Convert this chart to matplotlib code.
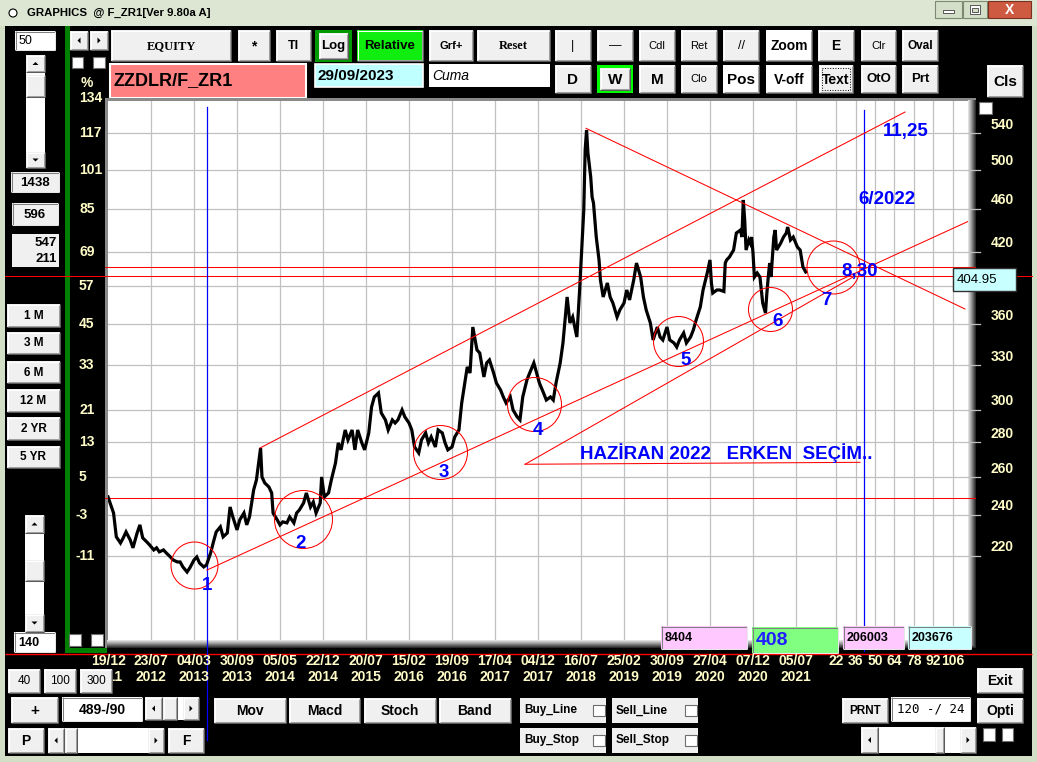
import matplotlib
matplotlib.use("Agg")
import matplotlib.pyplot as plt
from matplotlib.patches import Rectangle, Polygon, Circle
from matplotlib.transforms import blended_transform_factory, offset_copy

plt.rcParams['font.family'] = ['Liberation Sans', 'DejaVu Sans']

# ---- data: ZZDLR/F_ZR1 weekly, week 0 = 19/12/2011 ----
weeks = [0, 4, 6, 9, 11, 13, 16, 18, 21, 23,
         25, 28, 30, 33, 35, 37, 40, 42, 45, 47,
         50, 52, 54, 57, 59, 62, 64, 66, 69, 71,
         74, 76, 78, 81, 83, 86, 88, 90, 93, 95,
         98, 100, 102, 105, 107, 110, 111, 113, 116, 118,
         119, 122, 124, 126, 129, 131, 134, 136, 138, 141,
         143, 146, 148, 150, 153, 154, 156, 159, 161, 164,
         166, 168, 171, 173, 176, 178, 180, 183, 185, 188,
         190, 192, 195, 197, 200, 202, 205, 207, 209, 212,
         214, 217, 219, 221, 224, 226, 229, 231, 233, 236,
         238, 241, 243, 245, 248, 250, 253,
         255, 259, 261, 263, 266, 268, 271, 273, 275, 278,
         280, 283, 285, 287, 290, 292, 295, 297, 299, 302,
         304, 307, 309, 311, 314, 316, 319, 321, 323, 326,
         328, 331, 333, 335, 338, 340, 343, 344, 345, 346,
         348, 349, 350, 351, 352, 354, 355, 357, 360, 362,
         364, 367, 369, 372, 374, 376, 379, 381, 384, 386,
         388, 391, 393, 396, 398, 400, 403, 405, 408, 410,
         412, 415, 417, 420, 422, 424, 427, 429, 432, 434,
         435, 436, 439, 441, 444, 445, 446, 448, 451, 453,
         456, 457, 458, 459, 460, 462, 463, 464, 465, 466,
         468, 470, 471, 472, 474, 475, 476, 477, 478, 480,
         481, 482, 485, 487, 489, 490, 492, 494, 497, 499,
         501, 503]
close = [249.4, 241.0, 229.1, 226.1, 228.6, 231.5, 227.6, 223.8, 231.0, 235.0,
         228.6, 226.6, 225.2, 222.8, 223.8, 221.9, 222.8, 221.4, 219.5, 218.1,
         217.2, 217.2, 214.9, 212.6, 214.5, 218.1, 219.5, 216.7, 214.9, 215.8,
         221.4, 226.6, 231.5, 234.0, 229.1, 231.0, 244.1, 239.0, 232.5, 237.5,
         241.0, 235.0, 239.0, 253.1, 258.5, 276.7, 260.2, 256.9, 254.7, 251.5,
         241.0, 237.5, 235.0, 236.5, 236.0, 239.0, 236.0, 241.0, 242.6, 246.2,
         251.5, 244.1, 246.7, 241.0, 246.2, 260.2, 249.4, 251.5, 258.5, 268.0,
         279.7, 275.6, 287.5, 281.5, 287.5, 275.6, 287.5, 279.7, 275.6, 285.7,
         301.9, 308.4, 311.0, 298.1, 293.7, 287.5, 293.7, 291.8, 293.7, 300.0,
         295.6, 291.8, 287.5, 277.3, 273.8, 281.5, 285.7, 279.7, 283.3, 277.3,
         287.5, 285.7, 279.7, 275.6, 277.3, 283.3, 287.5,
         304.5, 328.7, 324.5, 357.8, 340.8, 338.6, 321.8, 331.5, 333.6, 324.5,
         317.7, 313.0, 308.4, 304.5, 308.4, 300.0, 295.6, 293.7, 308.4, 319.7,
         324.5, 331.5, 324.5, 317.7, 311.0, 306.4, 308.4, 306.4, 317.7, 331.5,
         345.9, 381.4, 360.9, 365.5, 350.3, 387.1, 458.8, 521.2, 543.8, 517.9,
         492.1, 471.7, 465.7, 449.2, 433.2, 412.6, 395.4, 381.4, 392.9, 381.4,
         376.5, 365.5, 371.0, 376.5, 387.1, 379.0, 395.4, 409.9, 397.9, 381.4,
         371.0, 360.9, 348.1, 357.8, 350.3, 348.1, 357.8, 348.1, 345.9, 342.9,
         348.1, 353.3, 345.9, 350.3, 355.6, 363.2, 373.4, 387.1, 401.3, 412.6,
         392.9, 384.6, 387.1, 387.1, 385.9, 409.9, 412.6, 415.2, 421.4, 436.9,
         439.7, 433.2, 468.7, 449.2, 421.4, 430.5, 427.7, 433.2, 418.7, 397.9,
         401.3, 397.9, 387.1, 376.5, 368.6, 384.6, 397.9, 409.9, 397.9, 433.2,
         439.7, 421.4, 427.7, 433.2, 436.9, 442.5, 430.5, 433.2, 424.1, 421.4,
         406.5, 402.2]

grid_dates = ['19/12', '23/07', '04/03', '30/09', '05/05', '22/12', '20/07', '15/02', '19/09',
              '17/04', '04/12', '16/07', '25/02', '30/09', '27/04', '07/12', '05/07']
grid_years = ['2011', '2012', '2013', '2013', '2014', '2014', '2015', '2016', '2016',
              '2017', '2017', '2018', '2019', '2019', '2020', '2020', '2021']
weeks_per_grid = 31
future_bars = [22, 36, 50, 64, 78, 92, 106]

price_levels = [582, 540, 500, 460, 420, 390, 360, 330, 300, 280, 260, 240, 220]
pct_labels = ['134', '117', '101', '85', '69', '57', '45', '33', '21', '13', '5', '-3', '-11']
hidden_price_label = 390   # covered by the cursor box in the app
base_price = 248.8
cursor_price = 398.8
last_price = 406.9
cursor_text = '404.95'

# drawn trend lines: (week0, price0, week1, price1)
upper_channel = (109.6, 276.7, 574.6, 565.0)
lower_channel = (71.4, 213.5, 620.7, 448.2)
inner_channel = (300.7, 267.3, 537.1, 397.9)
election_line = (300.7, 267.3, 542.1, 268.4)
peak_line = (344.6, 545.8, 617.8, 371.8)

ring_weeks = [62.0, 140.9, 239.0, 307.1, 411.1, 476.9, 522.7]
ring_prices = [215.8, 238.0, 274.4, 303.5, 347.5, 371.8, 406.5]
ring_radius = [23.5, 29, 27, 27, 25, 22, 26.5]

wave_labels = ['1', '2', '3', '4', '5', '6', '7']
wave_weeks = [71.4, 139.1, 242.2, 310.0, 416.7, 483.0, 518.3]
wave_prices = [207.3, 226.6, 263.5, 288.7, 335.0, 363.2, 380.2]

vlines_weeks = [71.2, 545.2]

# ---- figure / helpers (pixel coordinates for the window chrome) ----
W, H = 1037, 762
fig = plt.figure(figsize=(W / 100, H / 100), dpi=100)
fig.patch.set_facecolor('#d2dec5')

bg = fig.add_axes([0, 0, 1, 1], zorder=0)
fg = fig.add_axes([0, 0, 1, 1], zorder=2)
for a in (bg, fg):
    a.set_xlim(0, W)
    a.set_ylim(H, 0)
    a.axis('off')

CREAM = '#fffcc8'


def box(a, x0, y0, x1, y1, fc, ec='none', lw=0.8, z=1, ls='-'):
    a.add_patch(Rectangle((x0, y0), x1 - x0, y1 - y0, facecolor=fc, edgecolor=ec,
                          lw=lw, zorder=z, ls=ls))


def seg(a, xs, ys, c, lw=0.75, z=2):
    a.plot(xs, ys, color=c, lw=lw, zorder=z, solid_capstyle='butt')


def button(a, x0, y0, x1, y1, label='', fc='#f0f0f0', fs=8.5, fw='bold',
           tc='black', family=None, z=1):
    box(a, x0, y0, x1, y1, fc, z=z)
    seg(a, [x0, x1], [y0 + .5, y0 + .5], 'white', z=z + .1)
    seg(a, [x0 + .5, x0 + .5], [y0, y1], 'white', z=z + .1)
    seg(a, [x0, x1], [y1 - .5, y1 - .5], '#5a5a5a', z=z + .1)
    seg(a, [x1 - .5, x1 - .5], [y0, y1], '#5a5a5a', z=z + .1)
    seg(a, [x0 + 1, x1 - 1], [y1 - 1.5, y1 - 1.5], '#a0a0a0', z=z + .1)
    seg(a, [x1 - 1.5, x1 - 1.5], [y0 + 1, y1 - 1], '#a0a0a0', z=z + .1)
    if label:
        kw = {} if family is None else {'family': family}
        a.text((x0 + x1) / 2, (y0 + y1) / 2 + .5, label, ha='center', va='center',
               fontsize=fs, fontweight=fw, color=tc, zorder=z + .2, **kw)


def field(a, x0, y0, x1, y1, label='', fc='white', fs=9, fw='bold', tc='black',
          ha='left', style='normal', family=None, z=1):
    box(a, x0, y0, x1, y1, fc, z=z)
    seg(a, [x0, x1], [y0 + .5, y0 + .5], '#808080', z=z + .1)
    seg(a, [x0 + .5, x0 + .5], [y0, y1], '#808080', z=z + .1)
    seg(a, [x0, x1], [y1 - .5, y1 - .5], '#e6e6e6', z=z + .1)
    seg(a, [x1 - .5, x1 - .5], [y0, y1], '#e6e6e6', z=z + .1)
    if label:
        kw = {} if family is None else {'family': family}
        tx = {'left': x0 + 4, 'center': (x0 + x1) / 2, 'right': x1 - 3}[ha]
        a.text(tx, (y0 + y1) / 2 + .5, label, ha=ha, va='center', fontsize=fs,
               fontweight=fw, color=tc, style=style, zorder=z + .2, **kw)


def tri(a, cx, cy, d, s=3.0, z=3):
    pts = {'up': [(cx - s, cy + s / 2), (cx + s, cy + s / 2), (cx, cy - s / 2)],
           'down': [(cx - s, cy - s / 2), (cx + s, cy - s / 2), (cx, cy + s / 2)],
           'left': [(cx + s / 2, cy - s), (cx + s / 2, cy + s), (cx - s / 2, cy)],
           'right': [(cx - s / 2, cy - s), (cx - s / 2, cy + s), (cx + s / 2, cy)]}[d]
    a.add_patch(Polygon(pts, closed=True, fc='black', ec='none', zorder=z))


def arrow_btn(a, x0, y0, x1, y1, d):
    button(a, x0, y0, x1, y1)
    tri(a, (x0 + x1) / 2, (y0 + y1) / 2, d)


def check(a, x0, y0, x1, y1):
    box(a, x0, y0, x1, y1, 'white', ec='#6e6e6e', lw=0.8, z=2)


# ---- window frame and title bar ----
box(bg, 0, 0, W, 26, '#dce6d2', z=0.5)
bg.add_patch(Circle((13, 13), 4, fc='white', ec='black', lw=0.8, zorder=2))
bg.text(27, 13, 'GRAPHICS  @ F_ZR1[Ver 9.80a A]', fontsize=8.2, fontweight='bold',
        va='center', ha='left', zorder=3)
box(bg, 935, 1, 962, 18, '#d3dfc8', ec='#7d8a72')
box(bg, 943, 10, 954, 13, 'white', ec='#404040', lw=0.6, z=2)
box(bg, 963, 1, 987, 18, '#d3dfc8', ec='#7d8a72')
box(bg, 970, 5, 980, 14, 'white', ec='#404040', lw=0.6, z=2)
box(bg, 972, 8, 978, 12, '#d3dfc8', ec='#404040', lw=0.6, z=2.1)
box(bg, 988, 1, 1031, 18, '#cf5a42', ec='#7a3020')
bg.text(1009.5, 9.5, 'X', color='white', fontsize=10, fontweight='bold',
        ha='center', va='center', zorder=3)
box(bg, 5, 26, 1032, 756, 'black', z=0.6)

# ---- left panel ----
field(bg, 15, 31, 55, 50, '50', fs=9, fw='normal')
box(bg, 26, 55, 45, 168, 'white')
arrow_btn(bg, 26, 55, 45, 72, 'up')
button(bg, 26, 75, 45, 97)
arrow_btn(bg, 26, 152, 45, 168, 'down')
field(bg, 11, 172, 59, 192, '1438', fc='#f0f0f0', fs=9.5, ha='center')
field(bg, 12, 203, 58, 225, '596', fc='#f0f0f0', fs=9.5, ha='center')
box(bg, 12, 234, 59, 267, '#f0f0f0')
bg.text(57, 243, '547', ha='right', va='center', fontsize=9.5, fontweight='bold', zorder=3)
bg.text(57, 259, '211', ha='right', va='center', fontsize=9.5, fontweight='bold', zorder=3)
for lbl, y0, y1 in [('1 M', 304, 327), ('3 M', 332, 354), ('6 M', 361, 383),
                    ('12 M', 389, 412), ('2 YR', 417, 440), ('5 YR', 446, 468)]:
    button(bg, 7, y0, 60, y1, lbl, fs=8.5)
box(bg, 25, 515, 44, 632, 'white')
arrow_btn(bg, 25, 515, 44, 533, 'up')
button(bg, 25, 560, 44, 581)
arrow_btn(bg, 25, 614, 44, 632, 'down')
field(bg, 14, 632, 55, 652, '140', fs=9)

box(bg, 65, 26, 70, 653, '#008000')
box(bg, 65, 648, 107, 653, '#008000')
arrow_btn(bg, 70, 31, 88, 50, 'left')
arrow_btn(bg, 90, 31, 108, 50, 'right')
check(bg, 72, 57, 83, 68)
check(bg, 93, 57, 105, 68)
check(bg, 69, 634, 81, 646)
check(bg, 91, 634, 103, 646)
bg.text(87, 83, '%', color=CREAM, fontsize=10, fontweight='bold', ha='center', va='center')

# ---- top toolbar ----
button(bg, 111, 30, 231, 61, 'EQUITY', fs=9, family='Liberation Serif')
button(bg, 238, 30, 270, 61, '*', fs=10)
button(bg, 276, 30, 311, 61, 'TI', fs=9)
box(bg, 315, 30, 352, 62, '#009a00')
button(bg, 319, 33, 348, 59, 'Log', fs=9.5, z=1.5)
button(bg, 357, 30, 423, 61, 'Relative', fc='#10ee10', fs=9.5)
button(bg, 429, 30, 473, 61, 'Grf+', fs=8)
button(bg, 477, 30, 550, 61, 'Reset', fs=9, family='Liberation Serif')
row1 = [('|', 555, 591, '#f0f0f0', 9, 'normal'), ('\u2014', 597, 633, '#f0f0f0', 9, 'normal'),
        ('Cdl', 639, 675, '#f0f0f0', 8, 'normal'), ('Ret', 681, 717, '#f0f0f0', 8, 'normal'),
        ('//', 723, 759, '#f0f0f0', 9, 'normal'), ('Zoom', 766, 812, 'white', 10, 'bold'),
        ('E', 818, 854, '#f0f0f0', 10, 'bold'), ('Clr', 861, 896, '#f0f0f0', 8, 'normal'),
        ('Oval', 902, 938, '#f0f0f0', 8.5, 'bold')]
for lbl, x0, x1, fc, fs, fw in row1:
    button(bg, x0, 30, x1, 61, lbl, fc=fc, fs=fs, fw=fw)

box(bg, 110, 64, 306, 98, '#ff8080', ec='white', lw=1.5)
bg.text(113, 81, 'ZZDLR/F_ZR1', fontsize=13, fontweight='bold', va='center', zorder=3)
box(bg, 315, 64, 423, 87, '#c0ffff', ec='white', lw=1.2)
bg.text(318, 76, '29/09/2023', fontsize=11, fontweight='bold', va='center', zorder=3)
box(bg, 429, 64, 550, 87, 'white')
bg.text(432, 76, 'Cuma', fontsize=10, style='italic', va='center', zorder=3)
button(bg, 555, 65, 591, 93, 'D', fs=11)
box(bg, 597, 65, 633, 93, '#00ff00')
button(bg, 600, 68, 630, 90, 'W', fs=11, z=1.5)
row2 = [('M', 639, 675, '#f0f0f0', 11, 'bold'), ('Clo', 681, 717, '#f0f0f0', 8, 'normal'),
        ('Pos', 723, 759, 'white', 11, 'bold'), ('V-off', 766, 812, 'white', 10, 'bold'),
        ('Text', 819, 853, '#f0f0f0', 10, 'bold'), ('OtO', 861, 896, '#f0f0f0', 9.5, 'bold'),
        ('Prt', 902, 938, '#f0f0f0', 9.5, 'bold')]
for lbl, x0, x1, fc, fs, fw in row2:
    button(bg, x0, 65, x1, 93, lbl, fc=fc, fs=fs, fw=fw)
box(bg, 822, 68, 850, 90, 'none', ec='black', lw=0.7, ls=':', z=2)
button(bg, 987, 65, 1023, 97, 'Cls', fs=11)
check(bg, 979, 102, 992, 114)

# ---- plot frame with shadow ----
box(bg, 105, 98, 976, 648, '#8a8a8a')
shade = ['#e0e0e0', '#c8c8c8', '#b0b0b0', '#989898', '#7c7c7c', '#606060', '#454545', '#2a2a2a']
for i, c in enumerate(shade):
    box(bg, 968 + i, 100, 969 + i, 648, c, z=1.1)
    box(bg, 107, 640 + i, 976, 641 + i, c, z=1.1)

# ---- bottom controls ----
button(fg, 8, 669, 40, 693, '40', fw='normal', fs=8.5)
button(fg, 44, 669, 76, 693, '100', fw='normal', fs=8.5)
button(fg, 80, 669, 112, 693, '300', fw='normal', fs=8.5)
button(bg, 11, 697, 58, 723, '+', fs=11)
field(bg, 62, 697, 142, 721, '489-/90', fs=10, ha='center')
box(bg, 145, 697, 199, 720, 'white')
arrow_btn(bg, 145, 697, 162, 720, 'left')
button(bg, 163, 697, 177, 720)
arrow_btn(bg, 183, 697, 199, 720, 'right')
button(bg, 8, 728, 44, 753, 'P', fs=10)
box(bg, 48, 728, 164, 753, 'white')
arrow_btn(bg, 48, 728, 64, 753, 'left')
button(bg, 65, 728, 77, 753)
arrow_btn(bg, 148, 728, 164, 753, 'right')
button(bg, 168, 728, 204, 753, 'F', fs=10)
for lbl, x0, x1 in [('Mov', 214, 286), ('Macd', 289, 360), ('Stoch', 364, 436), ('Band', 439, 511)]:
    button(bg, x0, 698, x1, 723, lbl, fs=10)
for lbl, x0, y0 in [('Buy_Line', 520, 698), ('Sell_Line', 612, 698),
                    ('Buy_Stop', 520, 728), ('Sell_Stop', 612, 728)]:
    box(bg, x0, y0, x0 + 86, y0 + 25, '#f0f0f0')
    bg.text(x0 + 4, y0 + 12.5, lbl, fontsize=8.5, fontweight='bold', va='center', zorder=3)
    check(bg, x0 + 73, y0 + 7, x0 + 85, y0 + 18)
button(bg, 842, 698, 888, 723, 'PRNT', fs=8.5)
field(bg, 891, 697, 970, 721, '120 -/ 24', fw='normal', fs=9, ha='center',
      family='DejaVu Sans Mono')
button(bg, 977, 668, 1023, 693, 'Exit', fs=10)
button(bg, 977, 698, 1023, 723, 'Opti', fs=10)
box(bg, 861, 727, 976, 753, 'white')
arrow_btn(bg, 861, 727, 878, 753, 'left')
button(bg, 935, 727, 944, 753)
arrow_btn(bg, 960, 727, 976, 753, 'right')
check(bg, 983, 728, 995, 741)
check(bg, 1002, 728, 1013, 741)
seg(bg, [5, 1032], [654, 654], 'red', lw=1, z=4)

# value boxes over the bottom of the chart
for lbl, x0, y0, x1, y1, fc, fs, tc in [('8404', 661, 626, 747, 649, '#ffc8ff', 9, 'black'),
                                        ('408', 752, 627, 838, 653, '#80ff80', 14, '#2020ff'),
                                        ('206003', 843, 626, 904, 649, '#ffc8ff', 9, 'black'),
                                        ('203676', 908, 626, 971, 649, '#c8ffff', 9, 'black')]:
    field(fg, x0, y0, x1, y1, lbl, fc=fc, fs=fs, tc=tc)
box(fg, 953, 268, 1016, 291, '#c8ffff', ec='#303030', lw=1, z=3)
fg.text(957, 280, cursor_text, fontsize=9.5, va='center', zorder=4)

# ---- price chart ----
ax = fig.add_axes([108 / W, 1 - 640 / H, 860 / W, 539 / H], zorder=1)
ax.set_facecolor('white')
ax.set_yscale('log')
ax.set_xlim(0, 620)
ax.set_ylim(184.0, 578.4)
ax.set_xticks([])
ax.set_yticks([])
ax.set_yticks([], minor=True)
for s in ax.spines.values():
    s.set_visible(False)

grid_weeks = [i * weeks_per_grid for i in range(len(grid_dates))]
future_weeks = [weeks[-1] + b for b in future_bars]
for w in grid_weeks[1:] + future_weeks:
    ax.axvline(w, color='#c0c0c0', lw=0.9, zorder=0)
for p in price_levels[1:]:
    ax.axhline(p, color='#c0c0c0', lw=0.9, zorder=0)

xd_ya = blended_transform_factory(ax.transData, ax.transAxes)
xa_yd = blended_transform_factory(ax.transAxes, ax.transData)
xf_yd = blended_transform_factory(fig.transFigure, ax.transData)

# axis labels in the app's cream colour
for w, d, y in zip(grid_weeks, grid_dates, grid_years):
    ax.text(w, -0.039, d, transform=xd_ya, ha='center', va='center', color=CREAM,
            fontsize=10, fontweight='bold')
    ax.text(w, -0.0687, y, transform=xd_ya, ha='center', va='center', color=CREAM,
            fontsize=10, fontweight='bold')
for w, b in zip(future_weeks, future_bars):
    ax.text(w, -0.039, str(b), transform=xd_ya, ha='center', va='center', color=CREAM,
            fontsize=10, fontweight='bold')

right_lab = offset_copy(xa_yd, fig=fig, x=0, y=8.5, units='dots')
for p, lbl in zip(price_levels, pct_labels):
    xl = -0.0378 if lbl.startswith('-') else -0.0337
    ax.text(xl, p, lbl, transform=xa_yd, ha='left', va='center', color=CREAM,
            fontsize=10, fontweight='bold')
for p in price_levels[1:]:
    ax.plot([1.0, 1.014], [p, p], transform=xa_yd, color='#c0c0c0', lw=0.9, clip_on=False)
    if p != hidden_price_label:
        ax.text(1.0395, p, str(p), transform=right_lab, ha='center', va='center',
                color=CREAM, fontsize=10, fontweight='bold')

# reference lines
ax.plot([-0.003, 1.008], [base_price, base_price], transform=xa_yd, color='red', lw=0.75,
        clip_on=False, zorder=2)
ax.plot([-0.003, 1.008], [last_price, last_price], transform=xa_yd, color='red', lw=0.75,
        clip_on=False, zorder=2)
ax.plot([5 / W, 1032 / W], [cursor_price, cursor_price], transform=xf_yd, color='red',
        lw=0.75, clip_on=False, zorder=2)
ax.plot([vlines_weeks[0]] * 2, [0.9889, -0.1855], transform=xd_ya, color='blue', lw=0.9,
        clip_on=False, zorder=2)
ax.plot([vlines_weeks[1]] * 2, [0.9833, -0.02], transform=xd_ya, color='blue', lw=0.9,
        clip_on=False, zorder=2)

# price series
ax.plot(weeks, close, color='black', lw=2.3, zorder=3, solid_joinstyle='miter')

# hand-drawn analysis
for w0, p0, w1, p1 in [upper_channel, lower_channel, inner_channel, election_line, peak_line]:
    ax.plot([w0, w1], [p0, p1], color='red', lw=0.75, zorder=4)
for w, p, r in zip(ring_weeks, ring_prices, ring_radius):
    ax.plot([w], [p], 'o', ms=2 * r * 0.72, mfc='none', mec='red', mew=0.75, zorder=4)
for lbl, w, p in zip(wave_labels, wave_weeks, wave_prices):
    ax.text(w, p, lbl, color='blue', fontsize=13.5, fontweight='bold', ha='center',
            va='center_baseline', zorder=5)
ax.text(542.1, 403.9, '8,30', color='blue', fontsize=13.5, fontweight='bold',
        ha='center', va='center_baseline', zorder=5)
ax.text(574.9, 544.4, '11,25', color='blue', fontsize=13.5, fontweight='bold',
        ha='center', va='center_baseline', zorder=5)
ax.text(561.2, 471.2, '6/2022', color='blue', fontsize=13.5, fontweight='bold',
        ha='center', va='center_baseline', zorder=5)
ax.text(340.3, 274.7, 'HAZİRAN 2022   ERKEN  SEÇİM..', color='blue', fontsize=13.5,
        fontweight='bold', ha='left', va='center_baseline', zorder=5)

fig.savefig('out.png', dpi=100, facecolor=fig.get_facecolor())
